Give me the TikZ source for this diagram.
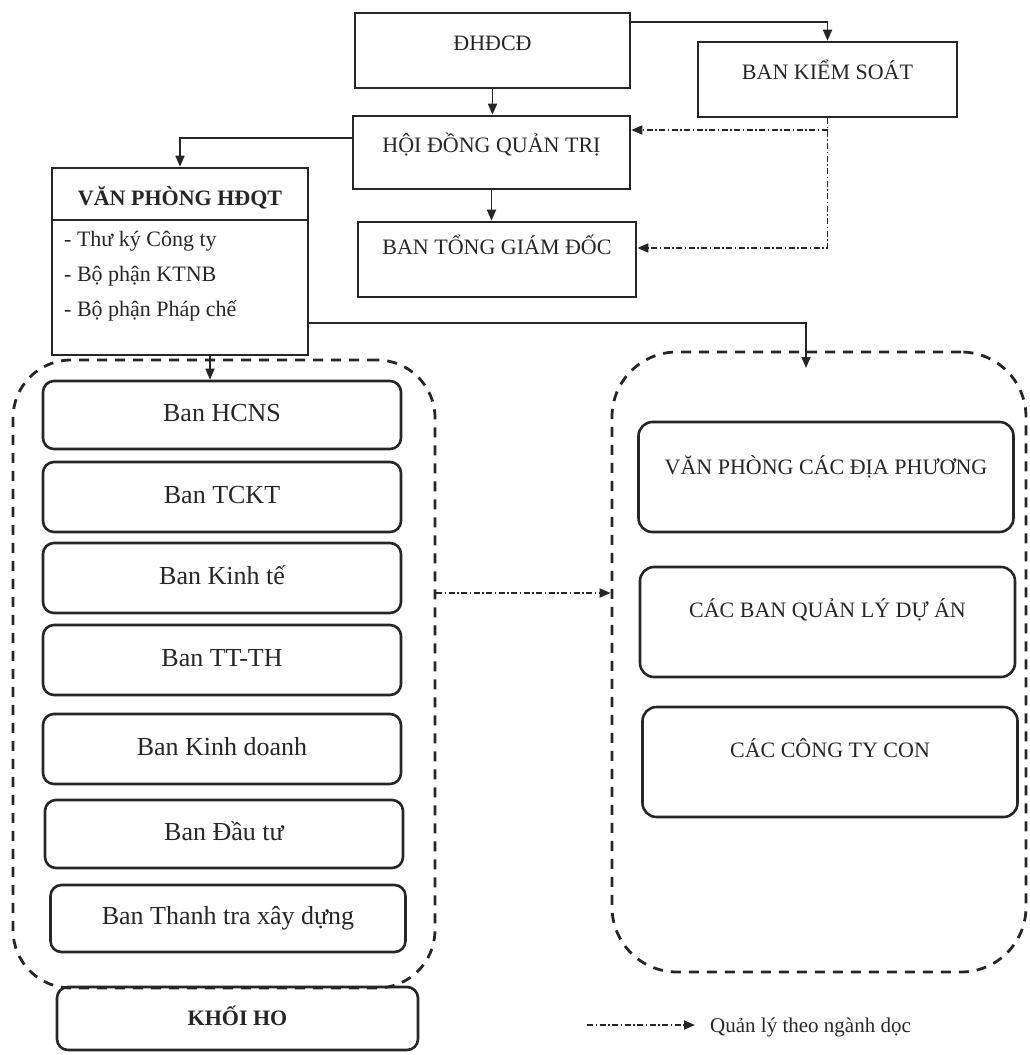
\documentclass[tikz,border=0pt]{standalone}
\usepackage{fontspec}
\setmainfont{Liberation Serif}
\usetikzlibrary{arrows.meta,calc}
\definecolor{ink}{HTML}{262626}
\begin{document}
\begin{tikzpicture}[x=1pt,y=-1pt,
  box/.style={draw=ink, line width=2.6pt, rectangle, inner sep=0pt, text=ink,
    font=\fontsize{22}{26}\selectfont, text height=15pt},
  rbox/.style={box, rounded corners=11pt},
  lbl/.style={font=\fontsize{26}{30}\selectfont, text height=18pt, text depth=6pt},
  item/.style={text=ink, inner sep=0pt, anchor=west, font=\fontsize{22}{26}\selectfont},
  cont/.style={draw=ink, line width=2.8pt, dash pattern=on 10pt off 8pt,
    rounded corners=#1, inner sep=0pt},
  solidarrow/.style={draw=ink, line width=1.7pt, -{Triangle[length=11pt,width=9pt]}},
  dda/.style={draw=ink, line width=1.8pt, dash pattern=on 6pt off 2.5pt on 1.5pt off 2.5pt,
    -{Triangle[length=11pt,width=9pt]}},
]
\useasboundingbox (0,0) rectangle (1030,1055);

% top boxes
\node[box, minimum width=275pt, minimum height=75pt, text depth=15pt] (dhdcd) at (492.5,50.5) {ĐHĐCĐ};
\node[box, minimum width=259pt, minimum height=75pt, text depth=15pt] (bks) at (827.5,79.5) {BAN KIỂM SOÁT};
\node[box, minimum width=277pt, minimum height=73pt, text depth=15pt] (hdqt) at (491.5,152.5) {HỘI ĐỒNG QUẢN TRỊ};
\node[box, minimum width=278pt, minimum height=75pt, text depth=25pt] (btgd) at (497,259.5) {BAN TỔNG GIÁM ĐỐC};

% Van phong HDQT
\node[draw=ink, line width=2.6pt, minimum width=256pt, minimum height=187pt, inner sep=0pt] (vp) at (180,261.5) {};
\node[text=ink, font=\bfseries\fontsize{22}{26}\selectfont] (vpt) at (180,198) {VĂN PHÒNG HĐQT};
\coordinate (divy) at (0,220);
\draw[ink, line width=2pt] (vp.west |- divy) -- (vp.east |- divy);
\node[item] (i1) at (64,241) {- Thư ký Công ty};
\node[item] (i2) at (64,276) {- Bộ phận KTNB};
\node[item] (i3) at (64,311) {- Bộ phận Pháp chế};

% left container
\node[cont=58pt, minimum width=422pt, minimum height=628pt] (lc) at (224,674) {};
\node[rbox, lbl, minimum width=358pt, minimum height=68pt] (b1) at (222,415) {Ban HCNS};
\node[rbox, lbl, minimum width=358pt, minimum height=70pt] (b2) at (222,497) {Ban TCKT};
\node[rbox, lbl, minimum width=358pt, minimum height=70pt] (b3) at (222,578) {Ban Kinh tế};
\node[rbox, lbl, minimum width=358pt, minimum height=70pt] (b4) at (222,660) {Ban TT-TH};
\node[rbox, lbl, minimum width=358pt, minimum height=70pt] (b5) at (222,749) {Ban Kinh doanh};
\node[rbox, lbl, minimum width=358pt, minimum height=68pt] (b6) at (224,834) {Ban Đầu tư};
\node[rbox, lbl, minimum width=355pt, minimum height=67pt] (b7) at (228,918.5) {Ban Thanh tra xây dựng};
\node[rbox, minimum width=361pt, minimum height=63pt, font=\bfseries\fontsize{22}{26}\selectfont] (kho) at (237.5,1018.5) {KHỐI HO};

% right container
\node[cont=65pt, minimum width=414pt, minimum height=620pt] (rc) at (819,662) {};
\node[box, rounded corners=14pt, minimum width=375pt, minimum height=110pt, text depth=21pt] (r1) at (826,477) {VĂN PHÒNG CÁC ĐỊA PHƯƠNG};
\node[box, rounded corners=14pt, minimum width=375pt, minimum height=110pt, text depth=24pt] (r2) at (827.5,622) {CÁC BAN QUẢN LÝ DỰ ÁN};
\node[box, rounded corners=14pt, minimum width=375pt, minimum height=110pt, text depth=24pt] (r3) at (830,762) {CÁC CÔNG TY CON};

% solid connectors
\draw[solidarrow] (dhdcd.south) -- (dhdcd.south |- hdqt.north);
\draw[solidarrow] ([yshift=28.5pt]dhdcd.east) -| (bks.north);
\draw[solidarrow] (hdqt.south) -- (hdqt.south |- btgd.north);
\draw[solidarrow] ([yshift=14.5pt]hdqt.west) -| (vp.north);
\coordinate (vpdown) at ([xshift=30pt]vp.south);
\draw[solidarrow] (vpdown) -- (vpdown |- b1.north);
\coordinate (vpr) at ([yshift=-61.5pt]vp.east);
\coordinate (rin) at (806,368);
\draw[solidarrow] (vpr) -| (rin);

% dash-dot connectors
\coordinate (hin) at ([yshift=22.5pt]hdqt.east);
\coordinate (tin) at ([yshift=11.5pt]btgd.east);
\draw[dda] (bks.south) |- (tin);
\draw[dda] (bks.south |- hin) -- (hin);
\coordinate (lcr) at ([yshift=81pt]lc.east);
\draw[dda] (lcr) -- (lcr -| rc.west);

% legend
\coordinate (la) at (587,1025);
\coordinate (lb) at (695,1025);
\draw[dda] (la) -- (lb);
\node[text=ink, inner sep=0pt, anchor=base west, font=\fontsize{21}{25}\selectfont] (leg) at (710,1032) {Quản lý theo ngành dọc};
\end{tikzpicture}
\end{document}
